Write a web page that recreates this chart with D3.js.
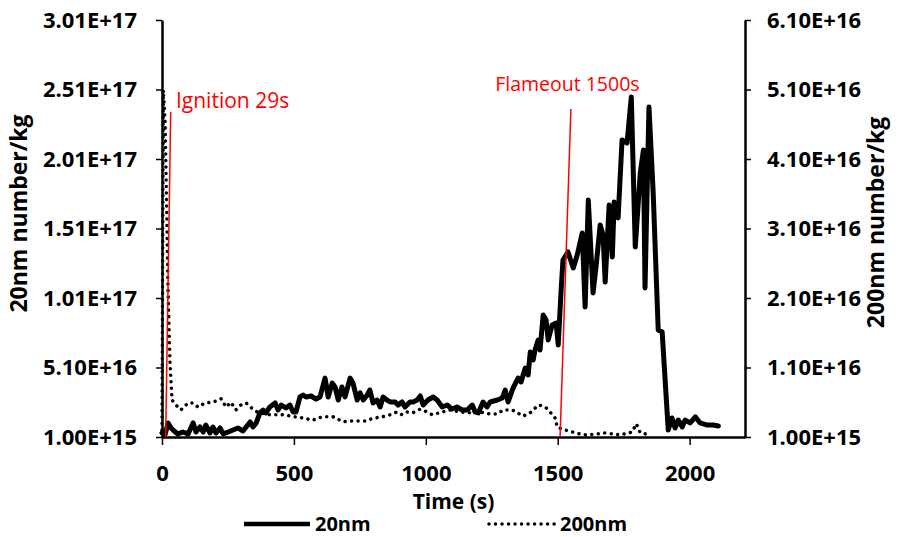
<!DOCTYPE html>
<html>
<head>
<meta charset="utf-8">
<script src="https://cdn.jsdelivr.net/npm/d3@7"></script>
<style>
  html, body { margin: 0; padding: 0; background: #fff; }
  svg { display: block; }
  text { font-family: "Open Sans", "Liberation Sans", sans-serif; }
</style>
</head>
<body>
<svg id="chart" width="901" height="537"></svg>
<script>
// ---- data (values in units of 1E+16 number/kg) ----
const seriesNames = ["20nm", "200nm"];

const t20 = [0, 11, 23, 34, 46, 60, 79, 99, 118, 129, 144, 156, 166, 182, 193, 205, 220, 232, 251, 269,
  288, 307, 319, 334, 345, 357, 371, 383, 394, 409, 429, 440, 452, 470, 485, 497, 508, 523, 535, 546,
  565, 584, 599, 618, 630, 645, 656, 668, 682, 694, 713, 724, 740, 751, 763, 778, 788, 800, 815, 827,
  838, 853, 865, 884, 895, 910, 921, 940, 952, 967, 979, 990, 1008, 1028, 1043, 1062, 1081, 1099, 1118, 1138,
  1157, 1176, 1187, 1199, 1217, 1232, 1244, 1271, 1290, 1301, 1312, 1331, 1350, 1361, 1377, 1388, 1396, 1407, 1414, 1426,
  1433, 1445, 1456, 1464, 1479, 1494, 1502, 1513, 1520, 1539, 1559, 1574, 1593, 1604, 1616, 1634, 1646, 1661, 1672, 1680,
  1695, 1707, 1714, 1729, 1744, 1763, 1779, 1794, 1813, 1825, 1831, 1846, 1862, 1881, 1896, 1919, 1933, 1945, 1957, 1972,
  1983, 2002, 2022, 2040, 2067, 2089, 2109];
const v20 = [0.39, 0.24, 1.11, 0.75, 0.53, 0.32, 0.46, 0.32, 1.11, 0.46, 0.82, 0.46, 0.96, 0.39, 0.82, 0.39, 0.75, 0.32, 0.46, 0.60,
  0.75, 0.53, 0.82, 1.18, 0.82, 1.11, 1.83, 2.04, 1.83, 2.26, 2.55, 2.04, 2.40, 2.19, 2.40, 1.90, 1.90, 2.98, 3.12, 2.98,
  3.05, 2.83, 2.98, 4.34, 2.98, 3.98, 3.70, 2.76, 3.70, 2.98, 4.34, 3.98, 2.76, 3.27, 2.76, 3.12, 3.48, 2.55, 2.76, 2.26,
  2.98, 2.76, 2.62, 2.62, 2.40, 2.62, 2.26, 2.62, 2.62, 2.76, 3.05, 2.40, 2.76, 2.98, 2.76, 2.26, 2.40, 2.11, 2.26, 2.04,
  2.04, 2.40, 1.90, 1.83, 2.62, 2.26, 2.62, 2.76, 2.91, 3.48, 2.62, 3.63, 4.34, 4.06, 5.06, 4.56, 6.22, 5.64, 6.36, 7.08,
  6.36, 8.88, 8.52, 7.08, 8.16, 8.30, 6.72, 10.68, 12.83, 13.41, 12.26, 13.19, 14.78, 9.45, 17.15, 10.46, 12.47, 15.35, 14.63, 11.25,
  16.79, 13.05, 17.01, 15.86, 21.47, 21.25, 24.56, 13.77, 19.09, 20.75, 10.82, 23.84, 17.65, 7.80, 7.65, 0.60, 1.47, 0.75, 1.32, 0.82,
  1.32, 1.11, 1.54, 1.11, 0.96, 0.96, 0.89];

const t200 = [0, 5, 12, 23, 30, 38, 53, 72, 99, 118, 137, 163, 193, 224, 243, 261, 280, 299, 319, 345,
  365, 409, 455, 504, 542, 569, 607, 649, 686, 713, 751, 774, 800, 834, 865, 891, 910, 929, 952, 979,
  1005, 1024, 1054, 1093, 1130, 1168, 1205, 1244, 1270, 1294, 1327, 1346, 1369, 1396, 1426, 1441, 1456, 1471, 1491, 1498,
  1528, 1597, 1642, 1680, 1736, 1782, 1798, 1813, 1850];
const v200 = [0.20, 5.09, 4.60, 2.20, 1.20, 0.63, 0.56, 0.49, 0.59, 0.59, 0.53, 0.59, 0.60, 0.65, 0.53, 0.60, 0.49, 0.56, 0.59, 0.50,
  0.45, 0.42, 0.42, 0.39, 0.37, 0.34, 0.39, 0.39, 0.32, 0.33, 0.33, 0.33, 0.37, 0.39, 0.42, 0.46, 0.42, 0.46, 0.45, 0.50,
  0.46, 0.42, 0.45, 0.49, 0.46, 0.45, 0.46, 0.43, 0.43, 0.49, 0.49, 0.45, 0.40, 0.45, 0.56, 0.55, 0.52, 0.46, 0.37, 0.24,
  0.20, 0.13, 0.14, 0.16, 0.13, 0.17, 0.29, 0.16, 0.13];

const xTickValues = [0, 500, 1000, 1500, 2000];
const leftTickValues = [0.1, 5.1, 10.1, 15.1, 20.1, 25.1, 30.1];
const leftTickLabels = ["1.00E+15", "5.10E+16", "1.01E+17", "1.51E+17", "2.01E+17", "2.51E+17", "3.01E+17"];
const rightTickValues = [0.1, 1.1, 2.1, 3.1, 4.1, 5.1, 6.1];
const rightTickLabels = ["1.00E+15", "1.10E+16", "2.10E+16", "3.10E+16", "4.10E+16", "5.10E+16", "6.10E+16"];

// annotation markers: red lines (time at bottom, time/value at top) and label anchor
const markerLabels = ["Ignition 29s", "Flameout 1500s"];
const markerT0 = [14, 1509];
const markerT1 = [33, 1550];
const markerV1 = [23.5, 23.7];
const markerTextT = [53, 1263];
const markerTextV = [23.8, 25.0];

// ---- layout ----
const W = 901, H = 537;
const margin = { top: 20, right: 156, bottom: 100, left: 162 };
const svg = d3.select("#chart");

const x = d3.scaleLinear().domain([0, 2210]).range([margin.left, W - margin.right]);
const yL = d3.scaleLinear().domain([0.1, 30.1]).range([H - margin.bottom, margin.top]);
const yR = d3.scaleLinear().domain([0.1, 6.1]).range([H - margin.bottom, margin.top]);

const d20 = t20.map((t, i) => [t, v20[i]]);
const d200 = t200.map((t, i) => [t, v200[i]]);

const DOTS = "0.01,6.5";

// series
svg.append("path")
  .datum(d200)
  .attr("fill", "none")
  .attr("stroke", "#000")
  .attr("stroke-width", 3.5)
  .attr("stroke-linecap", "round")
  .attr("stroke-dasharray", DOTS)
  .attr("d", d3.line().x(d => x(d[0])).y(d => yR(d[1])));

svg.append("path")
  .datum(d20)
  .attr("fill", "none")
  .attr("stroke", "#000")
  .attr("stroke-width", 5)
  .attr("stroke-linejoin", "round")
  .attr("stroke-linecap", "round")
  .attr("d", d3.line().x(d => x(d[0])).y(d => yL(d[1])));

// axes
const styleAxis = g => {
  g.select(".domain").attr("stroke", "#000").attr("stroke-width", 2.5);
  g.selectAll(".tick line").attr("stroke", "#000").attr("stroke-width", 1.5);
  g.selectAll(".tick text").attr("fill", "#000")
    .style("font-size", "22px").style("font-weight", "bold");
};

svg.append("g")
  .attr("transform", `translate(0,${H - margin.bottom})`)
  .call(d3.axisBottom(x).tickValues(xTickValues).tickFormat(d3.format("d")).tickSize(8).tickPadding(20).tickSizeOuter(0))
  .call(styleAxis);

svg.append("g")
  .attr("transform", `translate(${margin.left},0)`)
  .call(d3.axisLeft(yL).tickValues(leftTickValues).tickFormat((d, i) => leftTickLabels[i]).tickSize(6).tickPadding(19).tickSizeOuter(0))
  .call(styleAxis);

svg.append("g")
  .attr("transform", `translate(${W - margin.right},0)`)
  .call(d3.axisRight(yR).tickValues(rightTickValues).tickFormat((d, i) => rightTickLabels[i]).tickSize(6).tickPadding(16).tickSizeOuter(0))
  .call(styleAxis);

// axis titles
svg.append("text")
  .attr("transform", `translate(27,${(margin.top + H - margin.bottom) / 2 - 15}) rotate(-90)`)
  .attr("text-anchor", "middle")
  .style("font-size", "23px").style("font-weight", "bold")
  .text("20nm number/kg");

svg.append("text")
  .attr("transform", `translate(884,${(margin.top + H - margin.bottom) / 2 - 6}) rotate(-90)`)
  .attr("text-anchor", "middle")
  .style("font-size", "23px").style("font-weight", "bold")
  .text("200nm number/kg");

svg.append("text")
  .attr("x", (margin.left + W - margin.right) / 2)
  .attr("y", 509)
  .attr("text-anchor", "middle")
  .style("font-size", "21px").style("font-weight", "bold")
  .text("Time (s)");

// markers
markerLabels.forEach((lab, i) => {
  svg.append("line")
    .attr("x1", x(markerT0[i])).attr("y1", yL(0.1))
    .attr("x2", x(markerT1[i])).attr("y2", yL(markerV1[i]))
    .attr("stroke", "#ff0000").attr("stroke-width", 1.5);
  svg.append("text")
    .attr("x", x(markerTextT[i])).attr("y", yL(markerTextV[i]))
    .attr("fill", "#ff0000")
    .style("font-size", i === 0 ? "21px" : "19.5px")
    .text(lab);
});

// legend
const legY = 524;
const legX = [244, 489];
seriesNames.forEach((name, i) => {
  svg.append("line")
    .attr("x1", legX[i]).attr("x2", legX[i] + 66)
    .attr("y1", legY).attr("y2", legY)
    .attr("stroke", "#000")
    .attr("stroke-width", i === 0 ? 4.5 : 3.5)
    .attr("stroke-linecap", i === 0 ? "butt" : "round")
    .attr("stroke-dasharray", i === 0 ? null : DOTS);
  svg.append("text")
    .attr("x", legX[i] + 71).attr("y", legY + 7)
    .style("font-size", "20px").style("font-weight", "bold")
    .text(name);
});
</script>
</body>
</html>
